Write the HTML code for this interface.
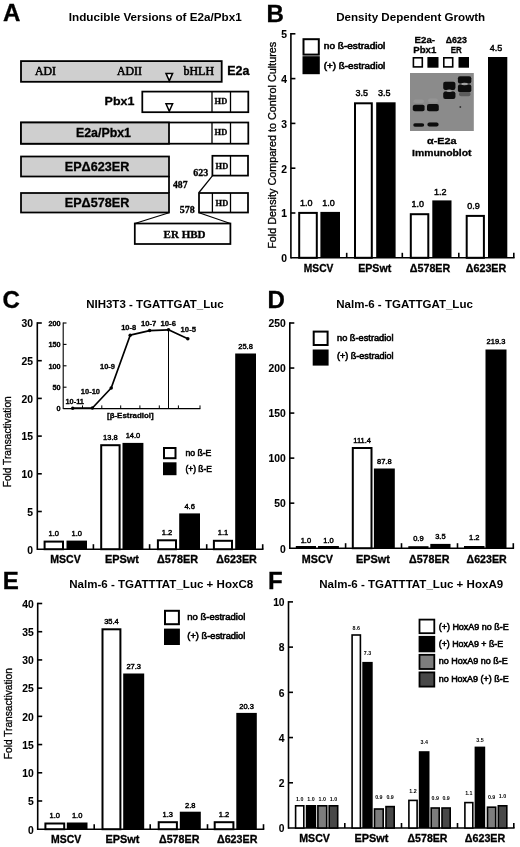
<!DOCTYPE html>
<html lang="en"><head><meta charset="utf-8"><title>Inducible Versions of E2a/Pbx1</title>
<style>
html,body{margin:0;padding:0;background:#fff;}
svg{display:block;filter:blur(0.35px);}
text.s{font-family:"Liberation Sans", "DejaVu Sans", sans-serif;fill:#000;stroke:#000;stroke-width:0.3px;}
text.r{font-family:"Liberation Serif", "DejaVu Serif", serif;fill:#000;stroke:#000;stroke-width:0.3px;}
</style></head><body>
<svg width="520" height="847" viewBox="0 0 520 847">
<defs><filter id="bl" x="-10%" y="-10%" width="120%" height="120%"><feGaussianBlur stdDeviation="0.75"/></filter></defs>
<rect width="520" height="847" fill="#fff"/>
<text class="s" x="2.9" y="21.2" font-size="23" font-weight="700" textLength="17.4" lengthAdjust="spacingAndGlyphs">A</text>
<text class="s" x="68.8" y="21.2" font-size="10.2" font-weight="700" textLength="173" lengthAdjust="spacingAndGlyphs" style="stroke-width:0">Inducible Versions of E2a/Pbx1</text>
<rect x="21.00" y="61.10" width="200.70" height="20.70" fill="#cfcfcf" stroke="#000" stroke-width="1.8"/>
<text class="r" x="35" y="75" font-size="11.5" textLength="21" lengthAdjust="spacingAndGlyphs" style="stroke-width:0.55px">ADI</text>
<text class="r" x="117" y="75" font-size="11.5" textLength="25" lengthAdjust="spacingAndGlyphs" style="stroke-width:0.55px">ADII</text>
<text class="r" x="183.5" y="75" font-size="11.5" textLength="30.5" lengthAdjust="spacingAndGlyphs" style="stroke-width:0.55px">bHLH</text>
<path d="M166.00,73.40 L172.60,73.40 L169.30,80.80 Z" fill="#fff" stroke="#000" stroke-width="1.5" stroke-linejoin="miter"/>
<text class="s" x="227.3" y="75.2" font-size="12" font-weight="700" textLength="22.2" lengthAdjust="spacingAndGlyphs">E2a</text>
<text class="s" x="104.6" y="104.5" font-size="11.8" font-weight="700" textLength="29.8" lengthAdjust="spacingAndGlyphs">Pbx1</text>
<rect x="142.30" y="91.60" width="106.00" height="20.60" fill="#fff" stroke="#000" stroke-width="1.75"/>
<line x1="212.00" y1="91.60" x2="212.00" y2="112.20" stroke="#000" stroke-width="1.3"/>
<line x1="230.50" y1="91.60" x2="230.50" y2="112.20" stroke="#000" stroke-width="1.3"/>
<path d="M166.00,103.80 L172.60,103.80 L169.30,111.20 Z" fill="#fff" stroke="#000" stroke-width="1.5" stroke-linejoin="miter"/>
<text class="r" x="214.6" y="104.3" font-size="9" font-weight="700" textLength="12.6" lengthAdjust="spacingAndGlyphs">HD</text>
<rect x="21.00" y="122.50" width="227.30" height="21.20" fill="#fff" stroke="#000" stroke-width="1.75"/>
<rect x="21.00" y="122.50" width="148.00" height="21.20" fill="#cfcfcf" stroke="#000" stroke-width="1.75"/>
<line x1="212.00" y1="122.50" x2="212.00" y2="143.70" stroke="#000" stroke-width="1.3"/>
<line x1="230.50" y1="122.50" x2="230.50" y2="143.70" stroke="#000" stroke-width="1.3"/>
<text class="s" x="103.5" y="137" font-size="12" text-anchor="middle" font-weight="700" textLength="55" lengthAdjust="spacingAndGlyphs">E2a/Pbx1</text>
<text class="r" x="214.6" y="135.4" font-size="9" font-weight="700" textLength="12.6" lengthAdjust="spacingAndGlyphs">HD</text>
<rect x="21.00" y="156.50" width="148.00" height="20.00" fill="#cfcfcf" stroke="#000" stroke-width="1.75"/>
<text class="s" x="97" y="171.3" font-size="12" text-anchor="middle" font-weight="700" textLength="64.5" lengthAdjust="spacingAndGlyphs">EPΔ623ER</text>
<rect x="212.40" y="155.80" width="35.60" height="19.80" fill="#fff" stroke="#000" stroke-width="1.75"/>
<line x1="230.50" y1="155.80" x2="230.50" y2="175.60" stroke="#000" stroke-width="1.3"/>
<text class="r" x="215.6" y="169" font-size="9" font-weight="700" textLength="12.6" lengthAdjust="spacingAndGlyphs">HD</text>
<line x1="169.00" y1="176.00" x2="169.00" y2="193.00" stroke="#000" stroke-width="1.75"/>
<rect x="21.00" y="193.00" width="148.00" height="19.50" fill="#cfcfcf" stroke="#000" stroke-width="1.75"/>
<text class="s" x="97" y="206.5" font-size="12" text-anchor="middle" font-weight="700" textLength="64.5" lengthAdjust="spacingAndGlyphs">EPΔ578ER</text>
<rect x="199.00" y="193.00" width="49.00" height="19.50" fill="#fff" stroke="#000" stroke-width="1.75"/>
<line x1="212.40" y1="193.00" x2="212.40" y2="212.50" stroke="#000" stroke-width="1.3"/>
<line x1="230.50" y1="193.00" x2="230.50" y2="212.50" stroke="#000" stroke-width="1.3"/>
<text class="r" x="215.6" y="206.2" font-size="9" font-weight="700" textLength="12.6" lengthAdjust="spacingAndGlyphs">HD</text>
<line x1="212.40" y1="175.80" x2="199.00" y2="192.50" stroke="#000" stroke-width="1.2"/>
<text class="r" x="193.2" y="175.8" font-size="9.5" font-weight="700" textLength="15" lengthAdjust="spacingAndGlyphs">623</text>
<text class="r" x="173" y="188.2" font-size="9.5" font-weight="700" textLength="14.5" lengthAdjust="spacingAndGlyphs">487</text>
<text class="r" x="179.8" y="212.5" font-size="9.5" font-weight="700" textLength="15" lengthAdjust="spacingAndGlyphs">578</text>
<rect x="134.80" y="223.50" width="95.60" height="20.50" fill="#fff" stroke="#000" stroke-width="1.75"/>
<line x1="169.00" y1="212.70" x2="134.80" y2="223.50" stroke="#000" stroke-width="1.2"/>
<line x1="199.00" y1="212.70" x2="230.40" y2="223.50" stroke="#000" stroke-width="1.2"/>
<text class="r" x="184.6" y="237.6" font-size="10" text-anchor="middle" font-weight="700" textLength="42" lengthAdjust="spacingAndGlyphs">ER HBD</text>
<text class="s" x="266.4" y="21.5" font-size="23" font-weight="700" textLength="17.4" lengthAdjust="spacingAndGlyphs">B</text>
<text class="s" x="336.2" y="21" font-size="10.7" font-weight="700" textLength="149" lengthAdjust="spacingAndGlyphs" style="stroke-width:0">Density Dependent Growth</text>
<line x1="290.90" y1="33.00" x2="290.90" y2="258.60" stroke="#000" stroke-width="1.6"/>
<line x1="290.90" y1="33.80" x2="295.40" y2="33.80" stroke="#000" stroke-width="1.6"/>
<text class="s" x="287" y="38.10800000000001" font-size="10.3" text-anchor="end" font-weight="700" style="stroke-width:0.1px">5</text>
<line x1="290.90" y1="78.60" x2="295.40" y2="78.60" stroke="#000" stroke-width="1.6"/>
<text class="s" x="287" y="82.908" font-size="10.3" text-anchor="end" font-weight="700" style="stroke-width:0.1px">4</text>
<line x1="290.90" y1="123.40" x2="295.40" y2="123.40" stroke="#000" stroke-width="1.6"/>
<text class="s" x="287" y="127.708" font-size="10.3" text-anchor="end" font-weight="700" style="stroke-width:0.1px">3</text>
<line x1="290.90" y1="168.20" x2="295.40" y2="168.20" stroke="#000" stroke-width="1.6"/>
<text class="s" x="287" y="172.508" font-size="10.3" text-anchor="end" font-weight="700" style="stroke-width:0.1px">2</text>
<line x1="290.90" y1="213.00" x2="295.40" y2="213.00" stroke="#000" stroke-width="1.6"/>
<text class="s" x="287" y="217.308" font-size="10.3" text-anchor="end" font-weight="700" style="stroke-width:0.1px">1</text>
<text class="s" x="287" y="262.10800000000006" font-size="10.3" text-anchor="end" font-weight="700" style="stroke-width:0.1px">0</text>
<line x1="290.90" y1="257.80" x2="514.60" y2="257.80" stroke="#000" stroke-width="1.6"/>
<line x1="346.70" y1="257.80" x2="346.70" y2="252.80" stroke="#000" stroke-width="1.6"/>
<line x1="402.30" y1="257.80" x2="402.30" y2="252.80" stroke="#000" stroke-width="1.6"/>
<line x1="458.80" y1="257.80" x2="458.80" y2="252.80" stroke="#000" stroke-width="1.6"/>
<line x1="513.80" y1="257.80" x2="513.80" y2="252.80" stroke="#000" stroke-width="1.6"/>
<text class="s" font-size="10.3" transform="translate(276,248.8) rotate(-90)" textLength="207" lengthAdjust="spacingAndGlyphs">Fold Density Compared to Control Cultures</text>
<rect x="299.20" y="212.90" width="17.60" height="44.90" fill="#fff" stroke="#000" stroke-width="2.0"/>
<text class="s" x="306.3" y="206.0" font-size="9" text-anchor="middle" style="stroke-width:0.45px">1.0</text>
<rect x="320.40" y="211.90" width="19.60" height="45.90" fill="#000"/>
<text class="s" x="328.5" y="206.0" font-size="9" text-anchor="middle" style="stroke-width:0.45px">1.0</text>
<rect x="355.00" y="103.30" width="16.80" height="154.50" fill="#fff" stroke="#000" stroke-width="2.0"/>
<text class="s" x="361.7" y="96.39999999999999" font-size="9" text-anchor="middle" style="stroke-width:0.45px">3.5</text>
<rect x="376.20" y="102.30" width="19.40" height="155.50" fill="#000"/>
<text class="s" x="384.2" y="96.39999999999999" font-size="9" text-anchor="middle" style="stroke-width:0.45px">3.5</text>
<rect x="410.80" y="214.20" width="17.50" height="43.60" fill="#fff" stroke="#000" stroke-width="2.0"/>
<text class="s" x="417.85" y="207.29999999999998" font-size="9" text-anchor="middle" style="stroke-width:0.45px">1.0</text>
<rect x="432.30" y="200.40" width="19.20" height="57.40" fill="#000"/>
<text class="s" x="440.2" y="194.5" font-size="9" text-anchor="middle" style="stroke-width:0.45px">1.2</text>
<rect x="466.70" y="215.90" width="17.20" height="41.90" fill="#fff" stroke="#000" stroke-width="2.0"/>
<text class="s" x="473.59999999999997" y="209.0" font-size="9" text-anchor="middle" style="stroke-width:0.45px">0.9</text>
<rect x="488.00" y="57.00" width="19.30" height="200.80" fill="#000"/>
<text class="s" x="495.95" y="51.1" font-size="9" text-anchor="middle" style="stroke-width:0.45px">4.5</text>
<text class="s" x="318.6" y="272.1" font-size="10.5" text-anchor="middle" font-weight="700" textLength="29.5" lengthAdjust="spacingAndGlyphs">MSCV</text>
<text class="s" x="374.7" y="272.1" font-size="10.5" text-anchor="middle" font-weight="700" textLength="33" lengthAdjust="spacingAndGlyphs">EPSwt</text>
<text class="s" x="430" y="272.1" font-size="10.5" text-anchor="middle" font-weight="700" textLength="40.5" lengthAdjust="spacingAndGlyphs">Δ578ER</text>
<text class="s" x="486" y="272.1" font-size="10.5" text-anchor="middle" font-weight="700" textLength="40.5" lengthAdjust="spacingAndGlyphs">Δ623ER</text>
<rect x="303.50" y="39.20" width="15.30" height="15.40" fill="#fff" stroke="#000" stroke-width="2"/>
<rect x="302.50" y="56.20" width="17.30" height="18.00" fill="#000" stroke="#000" stroke-width="0"/>
<text class="s" x="323.8" y="49.4" font-size="8.6" textLength="61.5" lengthAdjust="spacingAndGlyphs" style="stroke-width:0.55px">no ß-estradiol</text>
<text class="s" x="323.8" y="68.6" font-size="8.6" textLength="61.5" lengthAdjust="spacingAndGlyphs" style="stroke-width:0.55px">(+) ß-estradiol</text>
<text class="s" x="424.8" y="43" font-size="9" text-anchor="middle" font-weight="700" textLength="20.5" lengthAdjust="spacingAndGlyphs">E2a-</text>
<text class="s" x="424.8" y="53" font-size="9" text-anchor="middle" font-weight="700" textLength="23" lengthAdjust="spacingAndGlyphs">Pbx1</text>
<text class="s" x="456.3" y="43" font-size="9" text-anchor="middle" font-weight="700" textLength="21" lengthAdjust="spacingAndGlyphs">Δ623</text>
<text class="s" x="456.3" y="53" font-size="9" text-anchor="middle" font-weight="700" textLength="11" lengthAdjust="spacingAndGlyphs">ER</text>
<rect x="413.40" y="57.80" width="8.90" height="9.10" fill="#fff" stroke="#000" stroke-width="1.6"/>
<rect x="427.40" y="57.00" width="11.10" height="10.70" fill="#000" stroke="#000" stroke-width="0"/>
<rect x="443.80" y="57.80" width="8.90" height="9.10" fill="#fff" stroke="#000" stroke-width="1.6"/>
<rect x="458.50" y="57.00" width="10.50" height="10.70" fill="#000" stroke="#000" stroke-width="0"/>
<rect x="410" y="73" width="63.8" height="58" fill="#8b8b8b"/>
<g filter="url(#bl)">
<rect x="412.8" y="104.8" width="11.80" height="6.50" rx="2" fill="#0c0c0c"/>
<rect x="413.2" y="123.2" width="11.00" height="3.60" rx="2" fill="#0c0c0c"/>
<rect x="427" y="104" width="11.80" height="7.30" rx="2" fill="#0c0c0c"/>
<rect x="427.4" y="122.5" width="11.20" height="4.10" rx="2" fill="#0c0c0c"/>
<rect x="413.5" y="99.5" width="10.50" height="3.50" rx="2" fill="#959595"/>
<rect x="428" y="98.5" width="10.00" height="4.00" rx="2" fill="#949494"/>
<rect x="443.2" y="81.8" width="12.20" height="8.20" rx="2" fill="#0c0c0c"/>
<rect x="443.2" y="91.5" width="12.20" height="7.50" rx="2" fill="#0c0c0c"/>
<ellipse cx="449.3" cy="90.7" rx="2.6" ry="1.3" fill="#9c9c9c"/>
<ellipse cx="442.6" cy="90.7" rx="1.2" ry="2.2" fill="#8b8b8b"/>
<ellipse cx="456" cy="90.7" rx="1.2" ry="2.2" fill="#8b8b8b"/>
<rect x="457.9" y="76.2" width="13.40" height="7.20" rx="2" fill="#0c0c0c"/>
<rect x="457.9" y="84.6" width="13.40" height="7.60" rx="2" fill="#0c0c0c"/>
<ellipse cx="464.6" cy="84" rx="3.2" ry="1.2" fill="#a0a0a0"/>
<rect x="459" y="92" width="11.50" height="4.30" rx="2" fill="#5c5c5c"/>
<circle cx="460.3" cy="107" r="0.9" fill="#333"/>
</g>
<text class="s" x="441.8" y="143.8" font-size="9.5" text-anchor="middle" font-weight="700" textLength="29.5" lengthAdjust="spacingAndGlyphs">α-E2a</text>
<text class="s" x="441.8" y="155.8" font-size="9.5" text-anchor="middle" font-weight="700" textLength="59.5" lengthAdjust="spacingAndGlyphs">Immunoblot</text>
<text class="s" x="2.4" y="308.3" font-size="23" font-weight="700" textLength="17.4" lengthAdjust="spacingAndGlyphs">C</text>
<text class="s" x="86.2" y="307.7" font-size="10.2" font-weight="700" textLength="137.5" lengthAdjust="spacingAndGlyphs" style="stroke-width:0">NIH3T3 - TGATTGAT_Luc</text>
<line x1="37.30" y1="322.20" x2="37.30" y2="550.00" stroke="#000" stroke-width="1.6"/>
<line x1="37.30" y1="323.00" x2="41.80" y2="323.00" stroke="#000" stroke-width="1.6"/>
<text class="s" x="33" y="327.30800000000005" font-size="10.3" text-anchor="end" font-weight="700" style="stroke-width:0.1px">30</text>
<line x1="37.30" y1="360.70" x2="41.80" y2="360.70" stroke="#000" stroke-width="1.6"/>
<text class="s" x="33" y="365.00800000000004" font-size="10.3" text-anchor="end" font-weight="700" style="stroke-width:0.1px">25</text>
<line x1="37.30" y1="398.40" x2="41.80" y2="398.40" stroke="#000" stroke-width="1.6"/>
<text class="s" x="33" y="402.7080000000001" font-size="10.3" text-anchor="end" font-weight="700" style="stroke-width:0.1px">20</text>
<line x1="37.30" y1="436.10" x2="41.80" y2="436.10" stroke="#000" stroke-width="1.6"/>
<text class="s" x="33" y="440.4080000000001" font-size="10.3" text-anchor="end" font-weight="700" style="stroke-width:0.1px">15</text>
<line x1="37.30" y1="473.80" x2="41.80" y2="473.80" stroke="#000" stroke-width="1.6"/>
<text class="s" x="33" y="478.1080000000001" font-size="10.3" text-anchor="end" font-weight="700" style="stroke-width:0.1px">10</text>
<line x1="37.30" y1="511.50" x2="41.80" y2="511.50" stroke="#000" stroke-width="1.6"/>
<text class="s" x="33" y="515.808" font-size="10.3" text-anchor="end" font-weight="700" style="stroke-width:0.1px">5</text>
<text class="s" x="33" y="553.508" font-size="10.3" text-anchor="end" font-weight="700" style="stroke-width:0.1px">0</text>
<line x1="37.30" y1="549.20" x2="263.50" y2="549.20" stroke="#000" stroke-width="1.6"/>
<line x1="93.40" y1="549.20" x2="93.40" y2="544.20" stroke="#000" stroke-width="1.6"/>
<line x1="149.60" y1="549.20" x2="149.60" y2="544.20" stroke="#000" stroke-width="1.6"/>
<line x1="206.70" y1="549.20" x2="206.70" y2="544.20" stroke="#000" stroke-width="1.6"/>
<line x1="262.70" y1="549.20" x2="262.70" y2="544.20" stroke="#000" stroke-width="1.6"/>
<text class="s" font-size="10.3" transform="translate(11.3,487.3) rotate(-90)" textLength="91" lengthAdjust="spacingAndGlyphs">Fold Transactivation</text>
<rect x="44.60" y="541.60" width="18.40" height="7.60" fill="#fff" stroke="#000" stroke-width="2.0"/>
<text class="s" x="53.8" y="536.0" font-size="7.5" text-anchor="middle" style="stroke-width:0.45px">1.0</text>
<rect x="66.50" y="540.60" width="20.50" height="8.60" fill="#000"/>
<text class="s" x="76.75" y="536.0" font-size="7.5" text-anchor="middle" style="stroke-width:0.45px">1.0</text>
<rect x="101.20" y="445.20" width="18.40" height="104.00" fill="#fff" stroke="#000" stroke-width="2.0"/>
<text class="s" x="110.4" y="439.59999999999997" font-size="7.5" text-anchor="middle" style="stroke-width:0.45px">13.8</text>
<rect x="122.50" y="442.90" width="20.90" height="106.30" fill="#000"/>
<text class="s" x="132.95" y="438.29999999999995" font-size="7.5" text-anchor="middle" style="stroke-width:0.45px">14.0</text>
<rect x="157.90" y="540.30" width="18.10" height="8.90" fill="#fff" stroke="#000" stroke-width="2.0"/>
<text class="s" x="166.95" y="534.6999999999999" font-size="7.5" text-anchor="middle" style="stroke-width:0.45px">1.2</text>
<rect x="179.20" y="513.40" width="20.80" height="35.80" fill="#000"/>
<text class="s" x="189.6" y="508.79999999999995" font-size="7.5" text-anchor="middle" style="stroke-width:0.45px">4.6</text>
<rect x="213.90" y="540.80" width="18.10" height="8.40" fill="#fff" stroke="#000" stroke-width="2.0"/>
<text class="s" x="222.95" y="535.1999999999999" font-size="7.5" text-anchor="middle" style="stroke-width:0.45px">1.1</text>
<rect x="235.20" y="353.50" width="20.80" height="195.70" fill="#000"/>
<text class="s" x="245.6" y="348.9" font-size="7.5" text-anchor="middle" style="stroke-width:0.45px">25.8</text>
<text class="s" x="65.5" y="562.7" font-size="10.5" text-anchor="middle" font-weight="700" textLength="30.5" lengthAdjust="spacingAndGlyphs">MSCV</text>
<text class="s" x="122" y="562.7" font-size="10.5" text-anchor="middle" font-weight="700" textLength="34" lengthAdjust="spacingAndGlyphs">EPSwt</text>
<text class="s" x="177.5" y="562.7" font-size="10.5" text-anchor="middle" font-weight="700" textLength="41" lengthAdjust="spacingAndGlyphs">Δ578ER</text>
<text class="s" x="236.6" y="562.7" font-size="10.5" text-anchor="middle" font-weight="700" textLength="40.5" lengthAdjust="spacingAndGlyphs">Δ623ER</text>
<rect x="164.00" y="448.00" width="11.50" height="10.20" fill="#fff" stroke="#000" stroke-width="2"/>
<rect x="163.00" y="462.30" width="13.50" height="12.90" fill="#000" stroke="#000" stroke-width="0"/>
<text class="s" x="185.4" y="455.8" font-size="8.6" textLength="26" lengthAdjust="spacingAndGlyphs" style="stroke-width:0.55px">no ß-E</text>
<text class="s" x="185.4" y="471.7" font-size="8.6" textLength="26.5" lengthAdjust="spacingAndGlyphs" style="stroke-width:0.55px">(+) ß-E</text>
<line x1="63.20" y1="322.50" x2="63.20" y2="409.10" stroke="#000" stroke-width="1.1"/>
<line x1="63.20" y1="323.00" x2="66.50" y2="323.00" stroke="#000" stroke-width="1.1"/>
<text class="s" x="60.6" y="325.7" font-size="7.3" text-anchor="end" font-weight="700">200</text>
<line x1="63.20" y1="344.40" x2="66.50" y2="344.40" stroke="#000" stroke-width="1.1"/>
<text class="s" x="60.6" y="347.09999999999997" font-size="7.3" text-anchor="end" font-weight="700">150</text>
<line x1="63.20" y1="365.80" x2="66.50" y2="365.80" stroke="#000" stroke-width="1.1"/>
<text class="s" x="60.6" y="368.5" font-size="7.3" text-anchor="end" font-weight="700">100</text>
<line x1="63.20" y1="387.20" x2="66.50" y2="387.20" stroke="#000" stroke-width="1.1"/>
<text class="s" x="60.6" y="389.90000000000003" font-size="7.3" text-anchor="end" font-weight="700">50</text>
<text class="s" x="60.6" y="411.3" font-size="7.3" text-anchor="end" font-weight="700">0</text>
<line x1="63.20" y1="408.60" x2="200.40" y2="408.60" stroke="#000" stroke-width="1.1"/>
<line x1="82.50" y1="408.60" x2="82.50" y2="405.40" stroke="#000" stroke-width="1.0"/>
<line x1="101.80" y1="408.60" x2="101.80" y2="405.40" stroke="#000" stroke-width="1.0"/>
<line x1="120.70" y1="408.60" x2="120.70" y2="405.40" stroke="#000" stroke-width="1.0"/>
<line x1="139.90" y1="408.60" x2="139.90" y2="405.40" stroke="#000" stroke-width="1.0"/>
<line x1="159.30" y1="408.60" x2="159.30" y2="405.40" stroke="#000" stroke-width="1.0"/>
<line x1="178.40" y1="408.60" x2="178.40" y2="405.40" stroke="#000" stroke-width="1.0"/>
<line x1="200.00" y1="408.60" x2="200.00" y2="405.40" stroke="#000" stroke-width="1.0"/>
<polyline fill="none" stroke="#000" stroke-width="1.7" stroke-linejoin="round" points="72.7,408.2 92.4,408.0 111.2,388 130.2,335.2 149.6,330.6 168.5,329.8 187.8,338.7"/>
<circle cx="72.7" cy="408.2" r="1.75" fill="#000"/>
<circle cx="92.4" cy="408.0" r="1.75" fill="#000"/>
<circle cx="111.2" cy="388" r="1.75" fill="#000"/>
<circle cx="130.2" cy="335.2" r="1.75" fill="#000"/>
<circle cx="149.6" cy="330.6" r="1.75" fill="#000"/>
<circle cx="168.5" cy="329.8" r="1.75" fill="#000"/>
<circle cx="187.8" cy="338.7" r="1.75" fill="#000"/>
<line x1="168.50" y1="329.80" x2="168.50" y2="408.60" stroke="#000" stroke-width="1.0"/>
<text class="s" x="65.4" y="404.4" font-size="7.8" font-weight="700" textLength="18.6" lengthAdjust="spacingAndGlyphs">10-11</text>
<text class="s" x="80.8" y="394.4" font-size="7.8" font-weight="700" textLength="19.2" lengthAdjust="spacingAndGlyphs">10-10</text>
<text class="s" x="100" y="368.9" font-size="7.8" font-weight="700" textLength="15" lengthAdjust="spacingAndGlyphs">10-9</text>
<text class="s" x="121.2" y="329.8" font-size="7.8" font-weight="700" textLength="15" lengthAdjust="spacingAndGlyphs">10-8</text>
<text class="s" x="141" y="326.3" font-size="7.8" font-weight="700" textLength="15.3" lengthAdjust="spacingAndGlyphs">10-7</text>
<text class="s" x="160.4" y="326.3" font-size="7.8" font-weight="700" textLength="15.6" lengthAdjust="spacingAndGlyphs">10-6</text>
<text class="s" x="180.6" y="332" font-size="7.8" font-weight="700" textLength="15.4" lengthAdjust="spacingAndGlyphs">10-5</text>
<text class="s" x="107" y="418.2" font-size="7.3" font-weight="700" textLength="46.7" lengthAdjust="spacingAndGlyphs">[β-Estradiol]</text>
<text class="s" x="267.4" y="308.3" font-size="23" font-weight="700" textLength="17.4" lengthAdjust="spacingAndGlyphs">D</text>
<text class="s" x="336.2" y="307.7" font-size="10.2" font-weight="700" textLength="136.7" lengthAdjust="spacingAndGlyphs" style="stroke-width:0">Nalm-6 - TGATTGAT_Luc</text>
<line x1="289.80" y1="322.20" x2="289.80" y2="549.00" stroke="#000" stroke-width="1.6"/>
<line x1="289.80" y1="323.00" x2="294.30" y2="323.00" stroke="#000" stroke-width="1.6"/>
<text class="s" x="285.8" y="327.30800000000005" font-size="10.3" text-anchor="end" font-weight="700" style="stroke-width:0.1px">250</text>
<line x1="289.80" y1="368.04" x2="294.30" y2="368.04" stroke="#000" stroke-width="1.6"/>
<text class="s" x="285.8" y="372.34800000000007" font-size="10.3" text-anchor="end" font-weight="700" style="stroke-width:0.1px">200</text>
<line x1="289.80" y1="413.08" x2="294.30" y2="413.08" stroke="#000" stroke-width="1.6"/>
<text class="s" x="285.8" y="417.3880000000001" font-size="10.3" text-anchor="end" font-weight="700" style="stroke-width:0.1px">150</text>
<line x1="289.80" y1="458.12" x2="294.30" y2="458.12" stroke="#000" stroke-width="1.6"/>
<text class="s" x="285.8" y="462.42800000000005" font-size="10.3" text-anchor="end" font-weight="700" style="stroke-width:0.1px">100</text>
<line x1="289.80" y1="503.16" x2="294.30" y2="503.16" stroke="#000" stroke-width="1.6"/>
<text class="s" x="285.8" y="507.4680000000001" font-size="10.3" text-anchor="end" font-weight="700" style="stroke-width:0.1px">50</text>
<text class="s" x="285.8" y="552.508" font-size="10.3" text-anchor="end" font-weight="700" style="stroke-width:0.1px">0</text>
<line x1="289.80" y1="548.20" x2="514.10" y2="548.20" stroke="#000" stroke-width="1.6"/>
<line x1="345.60" y1="548.20" x2="345.60" y2="543.20" stroke="#000" stroke-width="1.6"/>
<line x1="401.50" y1="548.20" x2="401.50" y2="543.20" stroke="#000" stroke-width="1.6"/>
<line x1="457.50" y1="548.20" x2="457.50" y2="543.20" stroke="#000" stroke-width="1.6"/>
<line x1="513.30" y1="548.20" x2="513.30" y2="543.20" stroke="#000" stroke-width="1.6"/>
<rect x="295.80" y="546.00" width="20.20" height="2.20" fill="#000"/>
<text class="s" x="305.9" y="542.5" font-size="7.5" text-anchor="middle" style="stroke-width:0.45px">1.0</text>
<rect x="318.00" y="546.00" width="20.90" height="2.20" fill="#000"/>
<text class="s" x="328.45" y="542.5" font-size="7.5" text-anchor="middle" style="stroke-width:0.45px">1.0</text>
<rect x="352.80" y="448.00" width="18.70" height="100.20" fill="#fff" stroke="#000" stroke-width="2.0"/>
<text class="s" x="362.15" y="442.9" font-size="7.5" text-anchor="middle" style="stroke-width:0.45px">111.4</text>
<rect x="373.90" y="468.50" width="20.90" height="79.70" fill="#000"/>
<text class="s" x="384.35" y="463.9" font-size="7.5" text-anchor="middle" style="stroke-width:0.45px">87.8</text>
<rect x="408.30" y="546.20" width="20.20" height="2.00" fill="#000"/>
<text class="s" x="418.4" y="541.2" font-size="7.5" text-anchor="middle" style="stroke-width:0.45px">0.9</text>
<rect x="430.30" y="543.90" width="20.20" height="4.30" fill="#000"/>
<text class="s" x="440.4" y="538.5" font-size="7.5" text-anchor="middle" style="stroke-width:0.45px">3.5</text>
<rect x="464.00" y="546.00" width="20.50" height="2.20" fill="#000"/>
<text class="s" x="474.25" y="539.8" font-size="7.5" text-anchor="middle" style="stroke-width:0.45px">1.2</text>
<rect x="485.50" y="349.50" width="21.00" height="198.70" fill="#000"/>
<text class="s" x="496.0" y="344" font-size="7.5" text-anchor="middle" style="stroke-width:0.45px">219.3</text>
<text class="s" x="317.3" y="562.7" font-size="10.5" text-anchor="middle" font-weight="700" textLength="31" lengthAdjust="spacingAndGlyphs">MSCV</text>
<text class="s" x="373" y="562.7" font-size="10.5" text-anchor="middle" font-weight="700" textLength="34" lengthAdjust="spacingAndGlyphs">EPSwt</text>
<text class="s" x="429.2" y="562.7" font-size="10.5" text-anchor="middle" font-weight="700" textLength="40.5" lengthAdjust="spacingAndGlyphs">Δ578ER</text>
<text class="s" x="486.6" y="562.7" font-size="10.5" text-anchor="middle" font-weight="700" textLength="40" lengthAdjust="spacingAndGlyphs">Δ623ER</text>
<rect x="313.70" y="331.60" width="13.90" height="13.40" fill="#fff" stroke="#000" stroke-width="2"/>
<rect x="312.70" y="349.50" width="15.90" height="16.10" fill="#000" stroke="#000" stroke-width="0"/>
<text class="s" x="337" y="340.6" font-size="8.5" textLength="56.5" lengthAdjust="spacingAndGlyphs" style="stroke-width:0.55px">no ß-estradiol</text>
<text class="s" x="337" y="359.4" font-size="8.5" textLength="56.5" lengthAdjust="spacingAndGlyphs" style="stroke-width:0.55px">(+) ß-estradiol</text>
<text class="s" x="2.8" y="588.7" font-size="23" font-weight="700" textLength="16.1" lengthAdjust="spacingAndGlyphs">E</text>
<text class="s" x="69.2" y="588.4" font-size="10.2" font-weight="700" textLength="184" lengthAdjust="spacingAndGlyphs" style="stroke-width:0">Nalm-6 - TGATTTAT_Luc + HoxC8</text>
<line x1="37.70" y1="602.70" x2="37.70" y2="830.00" stroke="#000" stroke-width="1.6"/>
<line x1="37.70" y1="603.50" x2="42.20" y2="603.50" stroke="#000" stroke-width="1.6"/>
<text class="s" x="33.7" y="607.808" font-size="10.3" text-anchor="end" font-weight="700" style="stroke-width:0.1px">40</text>
<line x1="37.70" y1="631.71" x2="42.20" y2="631.71" stroke="#000" stroke-width="1.6"/>
<text class="s" x="33.7" y="636.0205" font-size="10.3" text-anchor="end" font-weight="700" style="stroke-width:0.1px">35</text>
<line x1="37.70" y1="659.92" x2="42.20" y2="659.92" stroke="#000" stroke-width="1.6"/>
<text class="s" x="33.7" y="664.233" font-size="10.3" text-anchor="end" font-weight="700" style="stroke-width:0.1px">30</text>
<line x1="37.70" y1="688.14" x2="42.20" y2="688.14" stroke="#000" stroke-width="1.6"/>
<text class="s" x="33.7" y="692.4455" font-size="10.3" text-anchor="end" font-weight="700" style="stroke-width:0.1px">25</text>
<line x1="37.70" y1="716.35" x2="42.20" y2="716.35" stroke="#000" stroke-width="1.6"/>
<text class="s" x="33.7" y="720.658" font-size="10.3" text-anchor="end" font-weight="700" style="stroke-width:0.1px">20</text>
<line x1="37.70" y1="744.56" x2="42.20" y2="744.56" stroke="#000" stroke-width="1.6"/>
<text class="s" x="33.7" y="748.8705" font-size="10.3" text-anchor="end" font-weight="700" style="stroke-width:0.1px">15</text>
<line x1="37.70" y1="772.78" x2="42.20" y2="772.78" stroke="#000" stroke-width="1.6"/>
<text class="s" x="33.7" y="777.0830000000001" font-size="10.3" text-anchor="end" font-weight="700" style="stroke-width:0.1px">10</text>
<line x1="37.70" y1="800.99" x2="42.20" y2="800.99" stroke="#000" stroke-width="1.6"/>
<text class="s" x="33.7" y="805.2955000000001" font-size="10.3" text-anchor="end" font-weight="700" style="stroke-width:0.1px">5</text>
<text class="s" x="33.7" y="833.508" font-size="10.3" text-anchor="end" font-weight="700" style="stroke-width:0.1px">0</text>
<line x1="37.70" y1="829.20" x2="264.30" y2="829.20" stroke="#000" stroke-width="1.6"/>
<line x1="94.20" y1="829.20" x2="94.20" y2="824.20" stroke="#000" stroke-width="1.6"/>
<line x1="150.20" y1="829.20" x2="150.20" y2="824.20" stroke="#000" stroke-width="1.6"/>
<line x1="207.50" y1="829.20" x2="207.50" y2="824.20" stroke="#000" stroke-width="1.6"/>
<line x1="263.50" y1="829.20" x2="263.50" y2="824.20" stroke="#000" stroke-width="1.6"/>
<text class="s" font-size="10.3" transform="translate(11.8,759.2) rotate(-90)" textLength="91" lengthAdjust="spacingAndGlyphs">Fold Transactivation</text>
<rect x="45.40" y="823.50" width="18.80" height="5.70" fill="#fff" stroke="#000" stroke-width="2.0"/>
<text class="s" x="54.8" y="818.3" font-size="7.5" text-anchor="middle" style="stroke-width:0.45px">1.0</text>
<rect x="66.80" y="822.50" width="20.70" height="6.70" fill="#000"/>
<text class="s" x="77.15" y="818.3" font-size="7.5" text-anchor="middle" style="stroke-width:0.45px">1.0</text>
<rect x="102.50" y="629.30" width="17.90" height="199.90" fill="#fff" stroke="#000" stroke-width="2.0"/>
<text class="s" x="111.45" y="624.0999999999999" font-size="7.5" text-anchor="middle" style="stroke-width:0.45px">35.4</text>
<rect x="123.20" y="673.50" width="21.00" height="155.70" fill="#000"/>
<text class="s" x="133.7" y="669.3" font-size="7.5" text-anchor="middle" style="stroke-width:0.45px">27.3</text>
<rect x="158.70" y="822.20" width="18.20" height="7.00" fill="#fff" stroke="#000" stroke-width="2.0"/>
<text class="s" x="167.8" y="817.0" font-size="7.5" text-anchor="middle" style="stroke-width:0.45px">1.3</text>
<rect x="179.80" y="811.70" width="21.00" height="17.50" fill="#000"/>
<text class="s" x="190.3" y="807.5" font-size="7.5" text-anchor="middle" style="stroke-width:0.45px">2.8</text>
<rect x="214.70" y="822.20" width="18.70" height="7.00" fill="#fff" stroke="#000" stroke-width="2.0"/>
<text class="s" x="224.05" y="817.0" font-size="7.5" text-anchor="middle" style="stroke-width:0.45px">1.2</text>
<rect x="236.30" y="712.90" width="20.50" height="116.30" fill="#000"/>
<text class="s" x="246.55" y="708.6999999999999" font-size="7.5" text-anchor="middle" style="stroke-width:0.45px">20.3</text>
<text class="s" x="66.2" y="842.7" font-size="10.5" text-anchor="middle" font-weight="700" textLength="30.2" lengthAdjust="spacingAndGlyphs">MSCV</text>
<text class="s" x="122.5" y="842.7" font-size="10.5" text-anchor="middle" font-weight="700" textLength="34" lengthAdjust="spacingAndGlyphs">EPSwt</text>
<text class="s" x="179.2" y="842.7" font-size="10.5" text-anchor="middle" font-weight="700" textLength="40.5" lengthAdjust="spacingAndGlyphs">Δ578ER</text>
<text class="s" x="237.2" y="842.7" font-size="10.5" text-anchor="middle" font-weight="700" textLength="40.5" lengthAdjust="spacingAndGlyphs">Δ623ER</text>
<rect x="165.00" y="610.80" width="13.90" height="13.40" fill="#fff" stroke="#000" stroke-width="2"/>
<rect x="164.00" y="628.60" width="15.90" height="16.40" fill="#000" stroke="#000" stroke-width="0"/>
<text class="s" x="187.3" y="620.2" font-size="8.6" textLength="58" lengthAdjust="spacingAndGlyphs" style="stroke-width:0.55px">no ß-estradiol</text>
<text class="s" x="187.3" y="639" font-size="8.6" textLength="58" lengthAdjust="spacingAndGlyphs" style="stroke-width:0.55px">(+) ß-estradiol</text>
<text class="s" x="267.9" y="589" font-size="23" font-weight="700" textLength="14.7" lengthAdjust="spacingAndGlyphs">F</text>
<text class="s" x="319.2" y="588.4" font-size="10.2" font-weight="700" textLength="184" lengthAdjust="spacingAndGlyphs" style="stroke-width:0">Nalm-6 - TGATTTAT_Luc + HoxA9</text>
<line x1="288.50" y1="601.10" x2="288.50" y2="828.80" stroke="#000" stroke-width="1.6"/>
<line x1="288.50" y1="601.90" x2="293.00" y2="601.90" stroke="#000" stroke-width="1.6"/>
<text class="s" x="284.6" y="606.208" font-size="10.3" text-anchor="end" font-weight="700" style="stroke-width:0.1px">10</text>
<line x1="288.50" y1="647.12" x2="293.00" y2="647.12" stroke="#000" stroke-width="1.6"/>
<text class="s" x="284.6" y="651.428" font-size="10.3" text-anchor="end" font-weight="700" style="stroke-width:0.1px">8</text>
<line x1="288.50" y1="692.34" x2="293.00" y2="692.34" stroke="#000" stroke-width="1.6"/>
<text class="s" x="284.6" y="696.648" font-size="10.3" text-anchor="end" font-weight="700" style="stroke-width:0.1px">6</text>
<line x1="288.50" y1="737.56" x2="293.00" y2="737.56" stroke="#000" stroke-width="1.6"/>
<text class="s" x="284.6" y="741.8679999999999" font-size="10.3" text-anchor="end" font-weight="700" style="stroke-width:0.1px">4</text>
<line x1="288.50" y1="782.78" x2="293.00" y2="782.78" stroke="#000" stroke-width="1.6"/>
<text class="s" x="284.6" y="787.088" font-size="10.3" text-anchor="end" font-weight="700" style="stroke-width:0.1px">2</text>
<text class="s" x="284.6" y="832.308" font-size="10.3" text-anchor="end" font-weight="700" style="stroke-width:0.1px">0</text>
<line x1="288.50" y1="828.00" x2="514.60" y2="828.00" stroke="#000" stroke-width="1.6"/>
<line x1="344.80" y1="828.00" x2="344.80" y2="823.00" stroke="#000" stroke-width="1.6"/>
<line x1="401.50" y1="828.00" x2="401.50" y2="823.00" stroke="#000" stroke-width="1.6"/>
<line x1="457.50" y1="828.00" x2="457.50" y2="823.00" stroke="#000" stroke-width="1.6"/>
<line x1="513.80" y1="828.00" x2="513.80" y2="823.00" stroke="#000" stroke-width="1.6"/>
<rect x="295.60" y="805.80" width="8.20" height="22.20" fill="#fff" stroke="#000" stroke-width="1.6"/>
<text class="s" x="299.7" y="801" font-size="6" text-anchor="middle" font-weight="700" textLength="7.4" lengthAdjust="spacingAndGlyphs" style="stroke-width:0">1.0</text>
<rect x="305.80" y="805.00" width="10.40" height="23.00" fill="#000"/>
<text class="s" x="311.0" y="801" font-size="6" text-anchor="middle" font-weight="700" textLength="7.4" lengthAdjust="spacingAndGlyphs" style="stroke-width:0">1.0</text>
<rect x="317.90" y="805.80" width="8.80" height="22.20" fill="#7d7d7d" stroke="#000" stroke-width="1.6"/>
<text class="s" x="322.3" y="801" font-size="6" text-anchor="middle" font-weight="700" textLength="7.4" lengthAdjust="spacingAndGlyphs" style="stroke-width:0">1.0</text>
<rect x="329.20" y="805.80" width="8.50" height="22.20" fill="#484848" stroke="#000" stroke-width="1.6"/>
<text class="s" x="333.45000000000005" y="801" font-size="6" text-anchor="middle" font-weight="700" textLength="7.4" lengthAdjust="spacingAndGlyphs" style="stroke-width:0">1.0</text>
<rect x="352.10" y="635.00" width="8.30" height="193.00" fill="#fff" stroke="#000" stroke-width="1.6"/>
<text class="s" x="356.25" y="629.6" font-size="6" text-anchor="middle" font-weight="700" textLength="7.4" lengthAdjust="spacingAndGlyphs" style="stroke-width:0">8.6</text>
<rect x="362.30" y="661.90" width="10.40" height="166.10" fill="#000"/>
<text class="s" x="367.5" y="655.2" font-size="6" text-anchor="middle" font-weight="700" textLength="7.4" lengthAdjust="spacingAndGlyphs" style="stroke-width:0">7.3</text>
<rect x="374.50" y="809.00" width="8.70" height="19.00" fill="#7d7d7d" stroke="#000" stroke-width="1.6"/>
<text class="s" x="378.85" y="798.8" font-size="6" text-anchor="middle" font-weight="700" textLength="7.4" lengthAdjust="spacingAndGlyphs" style="stroke-width:0">0.9</text>
<rect x="386.00" y="806.60" width="8.20" height="21.40" fill="#484848" stroke="#000" stroke-width="1.6"/>
<text class="s" x="390.1" y="798.8" font-size="6" text-anchor="middle" font-weight="700" textLength="7.4" lengthAdjust="spacingAndGlyphs" style="stroke-width:0">0.9</text>
<rect x="408.90" y="800.40" width="8.20" height="27.60" fill="#fff" stroke="#000" stroke-width="1.6"/>
<text class="s" x="413.0" y="793.4" font-size="6" text-anchor="middle" font-weight="700" textLength="7.4" lengthAdjust="spacingAndGlyphs" style="stroke-width:0">1.2</text>
<rect x="418.80" y="751.20" width="10.70" height="76.80" fill="#000"/>
<text class="s" x="424.15" y="744.4" font-size="6" text-anchor="middle" font-weight="700" textLength="7.4" lengthAdjust="spacingAndGlyphs" style="stroke-width:0">3.4</text>
<rect x="431.20" y="808.00" width="8.00" height="20.00" fill="#7d7d7d" stroke="#000" stroke-width="1.6"/>
<text class="s" x="435.20000000000005" y="799.6" font-size="6" text-anchor="middle" font-weight="700" textLength="7.4" lengthAdjust="spacingAndGlyphs" style="stroke-width:0">0.9</text>
<rect x="442.00" y="808.00" width="8.20" height="20.00" fill="#484848" stroke="#000" stroke-width="1.6"/>
<text class="s" x="446.1" y="799.6" font-size="6" text-anchor="middle" font-weight="700" textLength="7.4" lengthAdjust="spacingAndGlyphs" style="stroke-width:0">0.9</text>
<rect x="464.90" y="802.60" width="7.90" height="25.40" fill="#fff" stroke="#000" stroke-width="1.6"/>
<text class="s" x="468.85" y="794.8" font-size="6" text-anchor="middle" font-weight="700" textLength="7.4" lengthAdjust="spacingAndGlyphs" style="stroke-width:0">1.1</text>
<rect x="474.60" y="746.60" width="10.60" height="81.40" fill="#000"/>
<text class="s" x="479.9" y="741.7" font-size="6" text-anchor="middle" font-weight="700" textLength="7.4" lengthAdjust="spacingAndGlyphs" style="stroke-width:0">3.5</text>
<rect x="487.50" y="807.20" width="8.20" height="20.80" fill="#7d7d7d" stroke="#000" stroke-width="1.6"/>
<text class="s" x="491.6" y="799" font-size="6" text-anchor="middle" font-weight="700" textLength="7.4" lengthAdjust="spacingAndGlyphs" style="stroke-width:0">0.9</text>
<rect x="498.30" y="805.80" width="8.50" height="22.20" fill="#484848" stroke="#000" stroke-width="1.6"/>
<text class="s" x="502.54999999999995" y="797.5" font-size="6" text-anchor="middle" font-weight="700" textLength="7.4" lengthAdjust="spacingAndGlyphs" style="stroke-width:0">1.0</text>
<text class="s" x="314.6" y="842" font-size="10.5" text-anchor="middle" font-weight="700" textLength="30.7" lengthAdjust="spacingAndGlyphs">MSCV</text>
<text class="s" x="371.5" y="842" font-size="10.5" text-anchor="middle" font-weight="700" textLength="34" lengthAdjust="spacingAndGlyphs">EPSwt</text>
<text class="s" x="427.5" y="842" font-size="10.5" text-anchor="middle" font-weight="700" textLength="40" lengthAdjust="spacingAndGlyphs">Δ578ER</text>
<text class="s" x="485" y="842" font-size="10.5" text-anchor="middle" font-weight="700" textLength="40.5" lengthAdjust="spacingAndGlyphs">Δ623ER</text>
<rect x="419.50" y="619.60" width="14.80" height="13.60" fill="#fff" stroke="#000" stroke-width="1.8"/>
<rect x="419.50" y="636.80" width="14.80" height="14.60" fill="#000" stroke="#000" stroke-width="1.8"/>
<rect x="419.50" y="654.80" width="14.80" height="14.20" fill="#7d7d7d" stroke="#000" stroke-width="1.8"/>
<rect x="419.50" y="672.40" width="14.80" height="14.20" fill="#484848" stroke="#000" stroke-width="1.8"/>
<text class="s" x="438.7" y="629.6" font-size="8.8" textLength="70" lengthAdjust="spacingAndGlyphs" style="stroke-width:0.55px">(+) HoxA9 no ß-E</text>
<text class="s" x="438.7" y="647.1" font-size="8.8" textLength="64.5" lengthAdjust="spacingAndGlyphs" style="stroke-width:0.55px">(+) HoxA9 + ß-E</text>
<text class="s" x="438.7" y="664.1" font-size="8.8" textLength="69" lengthAdjust="spacingAndGlyphs" style="stroke-width:0.55px">no HoxA9 no ß-E</text>
<text class="s" x="438.7" y="682.1" font-size="8.8" textLength="70" lengthAdjust="spacingAndGlyphs" style="stroke-width:0.55px">no HoxA9 (+) ß-E</text>
</svg>
</body></html>
